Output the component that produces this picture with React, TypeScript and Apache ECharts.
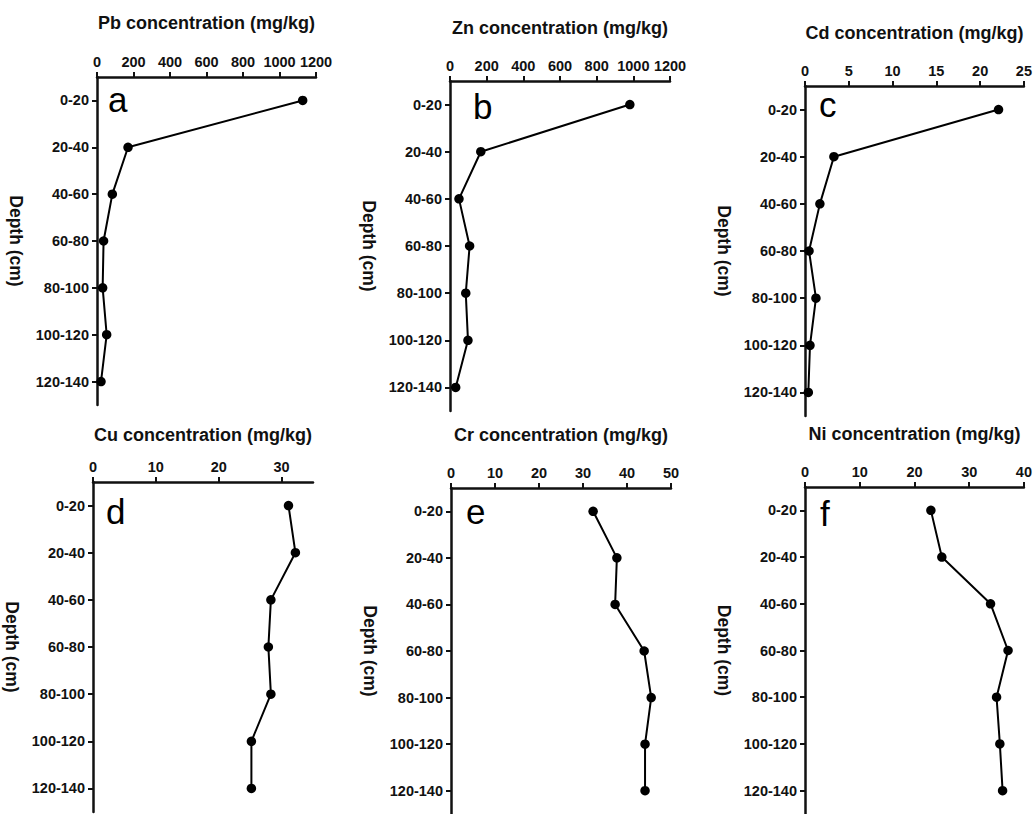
import { useEffect, useRef } from "react";
import * as echarts from "echarts";

// Soil depth intervals (cm), top to bottom
const depths = ["0-20", "20-40", "40-60", "60-80", "80-100", "100-120", "120-140"];

// Metal concentrations (mg/kg) for each depth interval
const pbValues = [1127, 170, 84, 36, 31, 53, 22];
const znValues = [981, 168, 49, 107, 86, 98, 31];
const cdValues = [22.1, 3.3, 1.7, 0.46, 1.25, 0.57, 0.38];
const cuValues = [31.1, 32.2, 28.3, 27.9, 28.3, 25.2, 25.2];
const crValues = [32.3, 37.7, 37.3, 43.9, 45.5, 44.1, 44.1];
const niValues = [23.0, 25.0, 33.9, 37.1, 35.0, 35.6, 36.1];

// Axis ranges and tick steps per metal
const metals = ["Pb", "Zn", "Cd", "Cu", "Cr", "Ni"];
const panelLetters = ["a", "b", "c", "d", "e", "f"];
const axisMax = [1200, 1200, 25, 35, 50, 40];
const axisStep = [200, 200, 5, 10, 10, 10];
const seriesValues = [pbValues, znValues, cdValues, cuValues, crValues, niValues];

// Panel layout (pixels)
const grids = [
  { left: 97, top: 77, width: 219, height: 328, titleGap: 45, letterX: 108, letterY: 99 },
  { left: 450, top: 81, width: 220, height: 330, titleGap: 44, letterX: 473, letterY: 106 },
  { left: 805, top: 86, width: 219, height: 330, titleGap: 44, letterX: 819, letterY: 104 },
  { left: 93, top: 482, width: 220, height: 330, titleGap: 38, letterX: 106, letterY: 511 },
  { left: 451, top: 488, width: 220, height: 330, titleGap: 44, letterX: 466, letterY: 511 },
  { left: 805, top: 487, width: 220, height: 330, titleGap: 44, letterX: 820, letterY: 513 },
];

const FONT = "'Liberation Sans', Arial, Helvetica, sans-serif";

function tickList(max: number, step: number): number[] {
  const out: number[] = [];
  for (let v = 0; v <= max + 1e-9; v += step) out.push(Math.round(v * 1000) / 1000);
  return out;
}

function buildOption(): echarts.EChartsCoreOption {
  const grid = grids.map((g) => ({
    left: g.left,
    top: g.top,
    width: g.width,
    height: g.height,
    containLabel: false,
  }));

  const xAxis = metals.map((m, i) => {
    const ticks = tickList(axisMax[i], axisStep[i]);
    return {
      type: "value",
      gridIndex: i,
      position: "top",
      min: 0,
      max: axisMax[i],
      interval: axisStep[i],
      name: `${m} concentration (mg/kg)`,
      nameLocation: "middle",
      nameGap: grids[i].titleGap,
      nameTextStyle: { color: "#111", fontFamily: FONT, fontWeight: "bold", fontSize: 18 },
      splitLine: { show: false },
      axisLine: { show: true, onZero: false, lineStyle: { color: "#111", width: 2.5 } },
      axisTick: { show: true, length: 5, lineStyle: { color: "#111", width: 2 }, customValues: ticks },
      axisLabel: {
        color: "#111",
        fontFamily: FONT,
        fontWeight: "bold",
        fontSize: 14.5,
        margin: 8,
        customValues: ticks,
        formatter: (v: number) => String(v),
      },
    };
  });

  const yAxis = metals.map((_, i) => ({
    type: "category",
    gridIndex: i,
    data: depths,
    inverse: true,
    boundaryGap: true,
    name: "Depth (cm)",
    nameLocation: "middle",
    nameRotate: -90,
    nameGap: 72,
    nameTextStyle: { color: "#111", fontFamily: FONT, fontWeight: "bold", fontSize: 17.5 },
    axisLine: { show: true, onZero: false, lineStyle: { color: "#111", width: 2.5 } },
    axisTick: { show: true, alignWithLabel: true, length: 5, lineStyle: { color: "#111", width: 2 } },
    axisLabel: { color: "#111", fontFamily: FONT, fontWeight: "bold", fontSize: 14.5, margin: 8 },
    splitLine: { show: false },
  }));

  const series = metals.map((m, i) => ({
    type: "line",
    name: m,
    xAxisIndex: i,
    yAxisIndex: i,
    data: seriesValues[i].map((v, k) => [v, depths[k]]),
    symbol: "circle",
    symbolSize: 9.5,
    itemStyle: { color: "#000" },
    lineStyle: { color: "#000", width: 2 },
    clip: false,
  }));

  const graphic = panelLetters.map((letter, i) => ({
    type: "text",
    x: grids[i].letterX,
    y: grids[i].letterY,
    style: {
      text: letter,
      fill: "#000",
      font: `normal 35px ${FONT}`,
      align: "left",
      verticalAlign: "middle",
    },
  }));

  return {
    animation: false,
    backgroundColor: "#fff",
    grid,
    xAxis,
    yAxis,
    series,
    graphic,
  };
}

export default function App() {
  const ref = useRef<HTMLDivElement>(null);

  useEffect(() => {
    if (!ref.current) return;
    const chart = echarts.init(ref.current, undefined, { renderer: "svg" });
    chart.setOption(buildOption());
    return () => chart.dispose();
  }, []);

  return (
    <div
      ref={ref}
      style={{ position: "fixed", left: 0, top: 0, width: 1035, height: 814, background: "#fff" }}
    />
  );
}
